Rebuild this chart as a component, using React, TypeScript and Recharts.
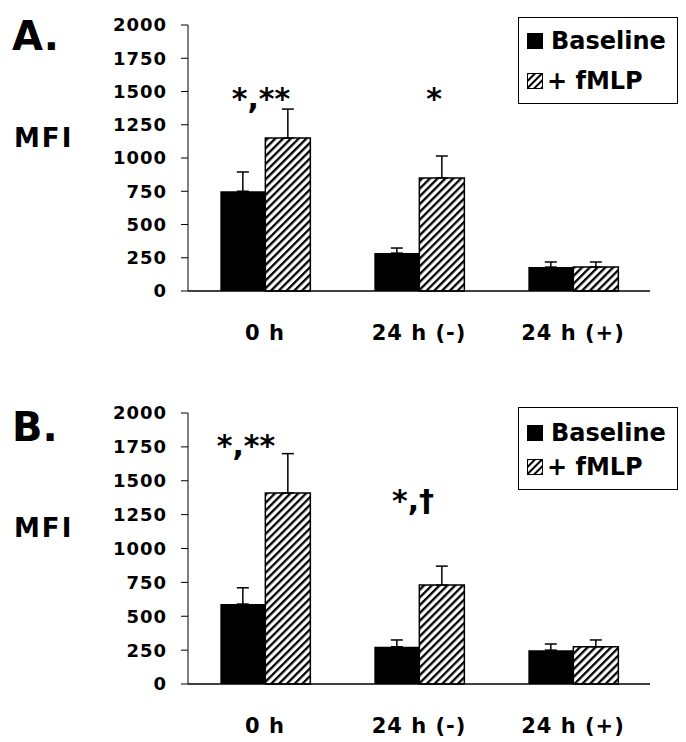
import { BarChart, Bar, XAxis, YAxis, ErrorBar, ReferenceDot } from "recharts";

const categories = ["0 h", "24 h (-)", "24 h (+)"];
const yTicks = [0, 250, 500, 750, 1000, 1250, 1500, 1750, 2000];

// panel A
const baselineA = [750, 285, 180];
const baselineErrA = [145, 38, 38];
const fmlpA = [1150, 850, 180];
const fmlpErrA = [218, 165, 38];

// panel B
const baselineB = [590, 275, 250];
const baselineErrB = [120, 50, 45];
const fmlpB = [1410, 730, 275];
const fmlpErrB = [290, 140, 50];

// significance marks (category, text, level in MFI units)
const notesA = [
  { cat: "0 h", text: "*,**", level: 1500, shift: -4 },
  { cat: "24 h (-)", text: "*", level: 1500, shift: 15 },
];
const notesB = [
  { cat: "0 h", text: "*,**", level: 1810, shift: -19 },
  { cat: "24 h (-)", text: "*,\u2020", level: 1405, shift: -6 },
];

const FONT = "'DejaVu Sans', sans-serif";

const buildRows = (base: number[], baseErr: number[], fm: number[], fmErr: number[]) =>
  categories.map((cat, i) => ({
    cat,
    baseline: base[i],
    baselineErr: [0, baseErr[i]],
    fmlp: fm[i],
    fmlpErr: [0, fmErr[i]],
  }));

const HatchIcon = () => (
  <svg width={16} height={16} style={{ display: "block" }}>
    <defs>
      <pattern id="hatchIcon" patternUnits="userSpaceOnUse" width={5} height={5} patternTransform="rotate(45)">
        <rect width={5} height={5} fill="#fff" />
        <rect width={2} height={5} fill="#000" />
      </pattern>
    </defs>
    <rect x={0.5} y={0.5} width={15} height={15} fill="url(#hatchIcon)" stroke="#000" strokeWidth={1} />
  </svg>
);

const LegendBox = ({ top, height, rows }: { top: number; height: number; rows: number[] }) => (
  <div
    style={{
      position: "absolute",
      left: 518,
      top,
      width: 160,
      height,
      border: "1px solid #000",
      boxSizing: "border-box",
      fontFamily: FONT,
      fontWeight: "bold",
      fontSize: 24,
      background: "#fff",
    }}
  >
    <div style={{ position: "absolute", left: 8, top: rows[0] - 13, height: 26, display: "flex", alignItems: "center" }}>
      <div style={{ width: 16, height: 16, background: "#000" }} />
      <span style={{ marginLeft: 8 }}>Baseline</span>
    </div>
    <div style={{ position: "absolute", left: 8, top: rows[1] - 13, height: 26, display: "flex", alignItems: "center" }}>
      <HatchIcon />
      <span style={{ marginLeft: 4 }}>+ fMLP</span>
    </div>
  </div>
);

type PanelProps = {
  id: string;
  rows: ReturnType<typeof buildRows>;
  notes: { cat: string; text: string; level: number; shift: number }[];
  height: number;
  marginTop: number;
  xHeight: number;
  marginBottom: number;
};

const Panel = ({ id, rows, notes, height, marginTop, xHeight, marginBottom }: PanelProps) => (
  <BarChart
    width={686}
    height={height}
    data={rows}
    margin={{ top: marginTop, right: 36, left: 108, bottom: marginBottom }}
    barCategoryGap="21%"
    barGap={0}
  >
    <defs>
      <pattern id={`hatch${id}`} patternUnits="userSpaceOnUse" width={5.5} height={5.5} patternTransform="rotate(45)">
        <rect width={5.5} height={5.5} fill="#fff" />
        <rect width={2.3} height={5.5} fill="#000" />
      </pattern>
    </defs>
    <XAxis
      dataKey="cat"
      height={xHeight}
      axisLine={{ stroke: "#000", strokeWidth: 1.5 }}
      tickLine={false}
      tickSize={0}
      tickMargin={34}
      tick={{ fill: "#000", fontFamily: FONT, fontWeight: "bold", fontSize: 21, letterSpacing: 1 }}
    />
    <YAxis
      width={80}
      domain={[0, 2000]}
      ticks={yTicks}
      interval={0}
      axisLine={{ stroke: "#000", strokeWidth: 1 }}
      tickLine={{ stroke: "#000", strokeWidth: 1 }}
      tickSize={7}
      tickMargin={14}
      tick={{ fill: "#000", fontFamily: FONT, fontWeight: "bold", fontSize: 18, letterSpacing: 1 }}
    />
    <Bar dataKey="baseline" name="Baseline" fill="#000" isAnimationActive={false}>
      <ErrorBar dataKey="baselineErr" direction="y" width={6} stroke="#000" strokeWidth={1.5} />
    </Bar>
    <Bar dataKey="fmlp" name="+ fMLP" fill={`url(#hatch${id})`} stroke="#000" strokeWidth={1.5} isAnimationActive={false}>
      <ErrorBar dataKey="fmlpErr" direction="y" width={6} stroke="#000" strokeWidth={1.5} />
    </Bar>
    {notes.map((n) => (
      <ReferenceDot
        key={n.cat}
        x={n.cat}
        y={n.level}
        r={0}
        isFront
        shape={(p: any) => (
          <text
            x={p.cx + n.shift}
            y={p.cy + 17}
            textAnchor="middle"
            fontFamily={FONT}
            fontWeight="bold"
            fontSize={30}
            fill="#000"
          >
            {n.text}
          </text>
        )}
      />
    ))}
  </BarChart>
);

export default function App() {
  return (
    <div style={{ position: "absolute", left: 0, top: 0, width: 686, height: 742, background: "#fff" }}>
      <div style={{ position: "absolute", left: 0, top: 0 }}>
        <Panel id="A" rows={buildRows(baselineA, baselineErrA, fmlpA, fmlpErrA)} notes={notesA} height={370} marginTop={25} xHeight={60} marginBottom={19} />
      </div>
      <div style={{ position: "absolute", left: 0, top: 370 }}>
        <Panel id="B" rows={buildRows(baselineB, baselineErrB, fmlpB, fmlpErrB)} notes={notesB} height={372} marginTop={43} xHeight={58} marginBottom={0} />
      </div>
      <svg width={686} height={742} style={{ position: "absolute", left: 0, top: 0, pointerEvents: "none" }}>
        <g fontFamily={FONT} fontWeight="bold" fill="#000">
          <text x={12} y={50} fontSize={40}>A.</text>
          <text x={14} y={147} fontSize={26} letterSpacing={2}>MFI</text>
          <text x={12} y={441} fontSize={40}>B.</text>
          <text x={14} y={537} fontSize={26} letterSpacing={2}>MFI</text>
        </g>
      </svg>
      <LegendBox top={17} height={87} rows={[23, 63]} />
      <LegendBox top={407} height={83} rows={[25, 59]} />
    </div>
  );
}
